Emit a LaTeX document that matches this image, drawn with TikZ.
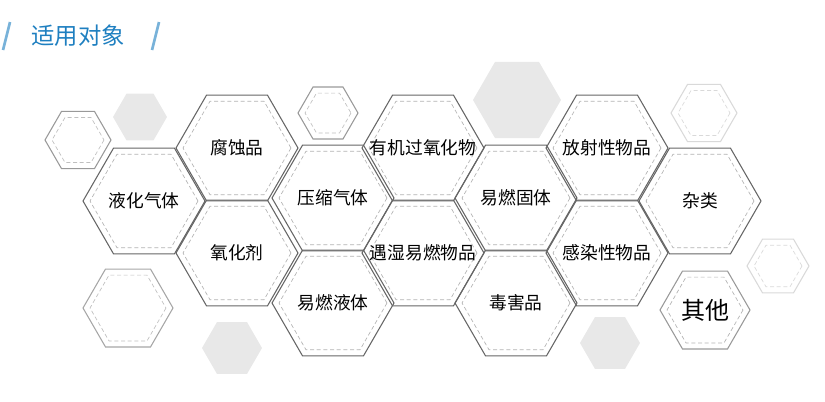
\documentclass[tikz,border=0pt]{standalone}
\usepackage{fontspec}
\usetikzlibrary{calc}
\setmainfont{Noto Sans CJK SC}
\definecolor{ttl}{HTML}{1E7FC0}
\definecolor{gfill}{HTML}{E8E8E8}
\begin{document}
\begin{tikzpicture}[x=0.75pt,y=-0.75pt,
  outer/.style={draw=#1,line width=0.8pt},
  inner/.style={draw=#1,dashed,dash pattern=on 3pt off 2pt,line width=0.5pt},
  lbl/.style={font=\fontsize{13.3}{15}\selectfont,text=black}]
\useasboundingbox (0,0) rectangle (825,401);
\newcommand{\hx}[5]{% x y r outercolor innercolor
  \draw[outer=#4] ($(#1,#2)+(0:#3)$) \foreach \a in {60,120,...,300}{-- ($(#1,#2)+(\a:#3)$)} -- cycle;
  \pgfmathsetmacro\ri{#3-7}
  \draw[inner=#5] ($(#1,#2)+(0:\ri)$) \foreach \a in {60,120,...,300}{-- ($(#1,#2)+(\a:\ri)$)} -- cycle;}
\newcommand{\hf}[3]{\fill[gfill] ($(#1,#2)+(0:#3)$) \foreach \a in {60,120,...,300}{-- ($(#1,#2)+(\a:#3)$)} -- cycle;}
% title
\node[font=\fontsize{17.5}{20}\selectfont,text=ttl] (title) at (78,36) {适用对象};
\draw[ttl!60,line width=2pt] (3,50) -- (10,22);
\draw[ttl!60,line width=2pt] (152,50) -- (159,22);
% decorative
\hx{78}{140}{33}{black!40}{black!25}
\hf{140}{117}{27}
\hx{328}{113}{30}{black!40}{black!25}
\hf{517}{100}{44}
\hx{704}{113}{33}{black!15}{black!15}
\hx{778}{266}{31}{black!15}{black!15}
\hx{128}{308}{45}{black!35}{black!25}
\hf{232}{348}{30}
\hf{610}{343}{30}
% main
\foreach \x/\y/\n/\t in {237/148/a/腐蚀品,144/201/b/液化气体,237/253/c/氧化剂,333/198/d/压缩气体,333/303/e/易燃液体,423/148/f/有机过氧化物,423/253/g/遇湿易燃物品,516/198/h/易燃固体,516/303/i/毒害品,607/148/j/放射性物品,607/253/k/感染性物品,700/201/l/杂类}{
  \hx{\x}{\y}{61}{black!60}{black!30}
  \node[lbl] (\n) at (\x,\y) {\t};
}
\hx{705}{310}{45}{black!40}{black!30}
\node[font=\fontsize{18}{20}\selectfont] (m) at (705,310) {其他};
\end{tikzpicture}
\end{document}
